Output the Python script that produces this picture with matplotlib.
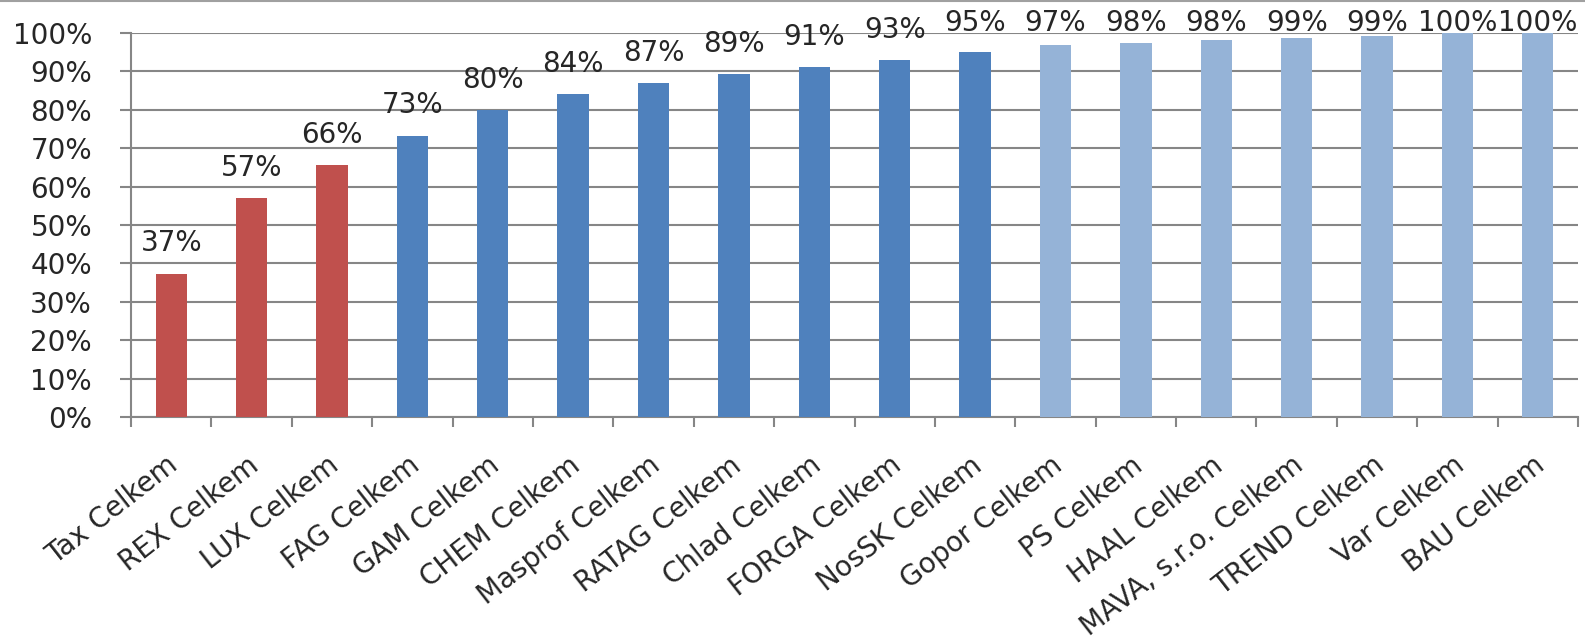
import matplotlib
matplotlib.use('Agg')
import matplotlib.pyplot as plt
from matplotlib.ticker import FixedLocator, PercentFormatter

# Podíl za jednotlivé firmy (seřazeno)
categories = ['Tax Celkem', 'REX Celkem', 'LUX Celkem', 'FAG Celkem', 'GAM Celkem',
              'CHEM Celkem', 'Masprof Celkem', 'RATAG Celkem', 'Chlad Celkem',
              'FORGA Celkem', 'NosSK Celkem', 'Gopor Celkem', 'PS Celkem',
              'HAAL Celkem', 'MAVA, s.r.o. Celkem', 'TREND Celkem', 'Var Celkem',
              'BAU Celkem']
values = [0.373, 0.57, 0.656, 0.733, 0.80, 0.84, 0.87, 0.893, 0.912, 0.93, 0.95,
          0.968, 0.975, 0.982, 0.988, 0.993, 1.0, 1.0]
groups = ['red'] * 3 + ['blue'] * 8 + ['light'] * 7

palette = {'red': '#C0504D', 'blue': '#4F81BD', 'light': '#95B3D7'}
text_color = '#262626'
grid_color = '#868686'
fs = 20

plt.rcParams['font.family'] = ['DejaVu Sans']

fig = plt.figure(figsize=(15.85, 6.4), dpi=100)
ax = fig.add_axes([131 / 1585, 223 / 640, (1578 - 131) / 1585, (417 - 33) / 640])

x = list(range(len(categories)))
ax.bar(x, values, width=0.39, color=[palette[g] for g in groups], zorder=3)

# data labels above bars (kept inside the picture at the top)
for xi, v in zip(x, values):
    y = min(v + 0.058, 1.005)
    ax.text(xi, y, f'{round(v * 100):.0f}%', ha='center', va='baseline',
            fontsize=fs, color=text_color, zorder=4, clip_on=False)

ax.set_xlim(-0.5, len(categories) - 0.5)
ax.set_ylim(0, 1.0)
ax.set_yticks([i / 10 for i in range(11)])
ax.yaxis.set_major_formatter(PercentFormatter(1.0, decimals=0))
ax.yaxis.grid(True, color=grid_color, linewidth=1.5, zorder=0)

# category labels, slanted
ax.set_xticks(x)
ax.set_xticklabels([])
for xi, name in zip(x, categories):
    ax.annotate(name, xy=(xi, 0), xycoords=('data', 'axes fraction'),
                xytext=(-3.5, -24.5), textcoords='offset points',
                rotation=38, rotation_mode='anchor', ha='right', va='top',
                fontsize=fs, color=text_color, annotation_clip=False)

ax.xaxis.set_minor_locator(FixedLocator([i - 0.5 for i in range(len(categories) + 1)]))
ax.tick_params(axis='x', which='major', length=0)
ax.tick_params(axis='x', which='minor', length=7, width=1.5, color=grid_color, direction='out')
ax.tick_params(axis='y', length=8, width=1.5, color=grid_color, pad=20, labelsize=fs,
               labelcolor=text_color)

for s in ['top', 'right']:
    ax.spines[s].set_visible(False)
for s in ['left', 'bottom']:
    ax.spines[s].set_color(grid_color)
    ax.spines[s].set_linewidth(1.5)

# thin frame line at the very top of the picture
fig.add_artist(plt.Line2D([0, 1], [0.998, 0.998], color='#A0A0A0', linewidth=1.5))

fig.savefig('out.png', dpi=100)
